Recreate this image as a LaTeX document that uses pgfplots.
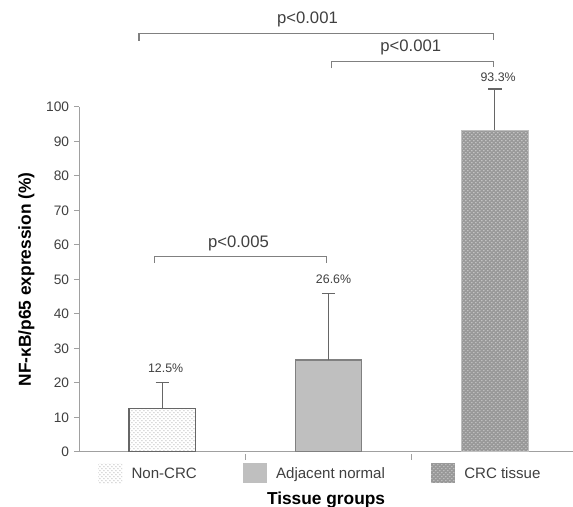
\documentclass[border=0pt]{standalone}
\usepackage{pgfplots}
\pgfplotsset{compat=1.18}
\usepackage{fontspec}
\setmainfont{Liberation Sans}
\usetikzlibrary{patterns}
\definecolor{axgray}{HTML}{A0A0A0}
\definecolor{txtgray}{HTML}{404040}
\definecolor{brgray}{HTML}{808080}
\begin{document}
\begin{tikzpicture}[x=1pt,y=1pt]
\begin{axis}[
  scale only axis,
  width=370.5pt, height=258.75pt,
  at={(0,0)}, anchor=south west,
  xmin=-0.5, xmax=2.47,
  ymin=0, ymax=100,
  clip=false,
  axis lines*=left,
  axis line style={axgray, line width=0.8pt},
  xtick={0.5,1.5}, xticklabels={},
  major tick length=4pt,
  xtick style={axgray, line width=0.8pt, yshift=-2pt},
  ytick={0,10,...,100},
  ytick style={axgray, line width=0.8pt},
  tick align=outside,
  yticklabel style={font=\fontsize{10.3}{12}\selectfont, text=txtgray},
  /pgf/number format/assume math mode=true,
  ylabel={\bfseries NF-κB/p65 expression (\%)},
  ylabel style={font=\fontsize{13}{15}\selectfont, text=black, yshift=2pt},
  xlabel={\bfseries Tissue groups},
  xlabel style={font=\fontsize{13}{15}\selectfont, text=black, yshift=-16pt},
  ybar, bar width=50pt, bar shift=0pt,
  error bars/y dir=plus, error bars/y explicit,
  error bars/error bar style={color=black!60, line width=0.9pt},
  error bars/error mark options={rotate=90, mark size=5pt, line width=0.9pt, black!60},
  legend columns=3,
  legend style={draw=none, at={(0.489,-0.025)}, anchor=north,
    font=\fontsize{11.3}{13}\selectfont, text=txtgray,
    /tikz/every odd column/.append style={column sep=5pt},
    /tikz/every even column/.append style={column sep=32.5pt}},
]
\addplot[forget plot, draw=black!60, line width=0.9pt, fill=white,
  postaction={pattern=crosshatch dots, pattern color=black!25}]
  coordinates {(0,12.5) +- (0,7.5)};
\addplot[forget plot, draw=black!50, line width=0.9pt, fill=black!25]
  coordinates {(1,26.6) +- (0,19.2)};
\addplot[forget plot, draw=black!25, line width=0.6pt, fill=black!40,
  postaction={pattern=crosshatch dots, pattern color=black!18}]
  coordinates {(2,93.3) +- (0,11.9)};

\addlegendimage{legend image code/.code={\path[draw=none, fill=white] (0pt,-7pt) rectangle (18pt,8pt);
     \path[draw=none, pattern=crosshatch dots, pattern color=black!25] (0pt,-7pt) rectangle (18pt,8pt);}}
\addlegendentry{Non-CRC}
\addlegendimage{legend image code/.code={\path[draw=none, fill=black!25] (0pt,-7pt) rectangle (18pt,8pt);}}
\addlegendentry{Adjacent normal}
\addlegendimage{legend image code/.code={\path[draw=none, fill=black!40] (0pt,-7pt) rectangle (18pt,8pt);
     \path[draw=none, pattern=crosshatch dots, pattern color=black!18] (0pt,-7pt) rectangle (18pt,8pt);}}
\addlegendentry{CRC tissue}

% value labels
\node[font=\fontsize{9.3}{10}\selectfont, text=txtgray] at (axis cs:0.02,24.3) {12.5\%};
\node[font=\fontsize{9.3}{10}\selectfont, text=txtgray] at (axis cs:1.03,49.9) {26.6\%};
\node[font=\fontsize{9.3}{10}\selectfont, text=txtgray] at (axis cs:2.02,108.7) {93.3\%};

% significance brackets
\draw[brgray, line width=0.8pt] (axis cs:-0.045,54.8) -- (axis cs:-0.045,56.6) -- (axis cs:0.99,56.6) -- (axis cs:0.99,54.8);
\node[font=\fontsize{12.5}{14}\selectfont, text=txtgray] at (axis cs:0.458,60.3) {p<0.005};

\draw[brgray, line width=0.8pt] (axis cs:1.02,111.2) -- (axis cs:1.02,113.3) -- (axis cs:1.99,113.3) -- (axis cs:1.99,111.6);
\node[font=\fontsize{12.5}{14}\selectfont, text=txtgray] at (axis cs:1.494,117.3) {p<0.001};

\draw[brgray, line width=0.8pt] (axis cs:-0.14,119.2) -- (axis cs:-0.14,121.4) -- (axis cs:1.99,121.4) -- (axis cs:1.99,119.5);
\node[font=\fontsize{12.5}{14}\selectfont, text=txtgray] at (axis cs:0.873,125.4) {p<0.001};

\coordinate (bbsw) at (axis cs:-0.976,-15.9);
\coordinate (bbne) at (axis cs:2.47,131);
\end{axis}
\pgfresetboundingbox
\path[use as bounding box] (bbsw) rectangle (bbne);
\end{tikzpicture}
\end{document}
